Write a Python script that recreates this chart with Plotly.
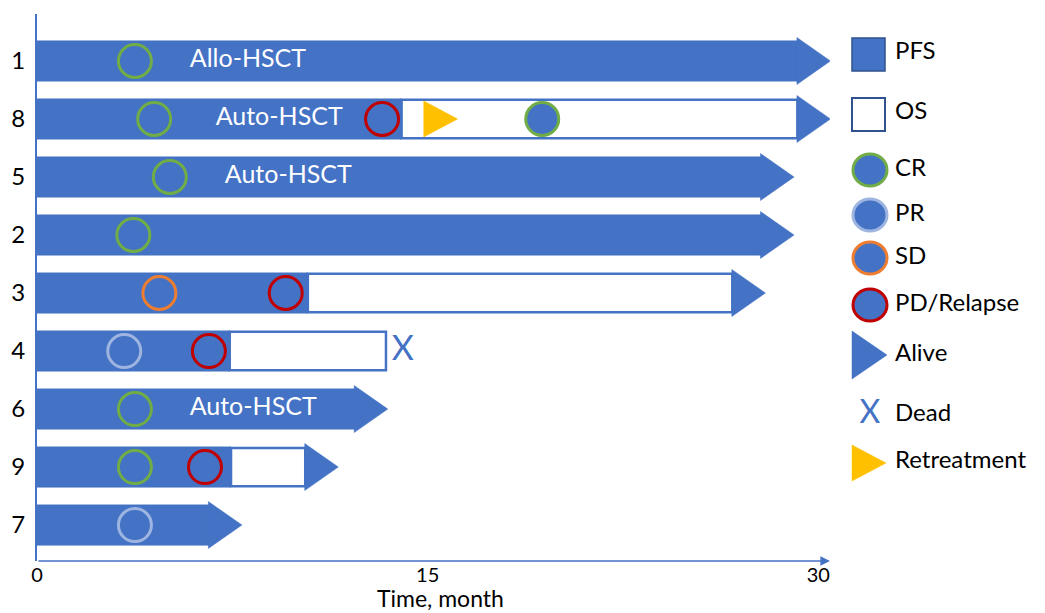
import plotly.graph_objects as go

# ---------------- data ----------------
patients = ["1", "8", "5", "2", "3", "4", "6", "9", "7"]
pfs_end = [29.2, 14.0, 27.8, 27.8, 10.4, 7.4, 12.2, 7.45, 6.6]
os_end = [29.2, 29.2, 27.8, 27.8, 26.7, 13.4, 12.2, 10.3, 6.6]
alive = [True, True, True, True, True, False, True, True, True]

cr_patient = ["1", "8", "8", "5", "2", "6", "9"]
cr_month = [3.76, 4.5, 19.4, 5.1, 3.7, 3.76, 3.76]
pr_patient = ["4", "7"]
pr_month = [3.35, 3.76]
sd_patient = ["3"]
sd_month = [4.7]
pd_patient = ["8", "3", "4", "9"]
pd_month = [13.25, 9.55, 6.6, 6.45]
retreat_patient = ["8"]
retreat_month = [14.85]

hsct_patient = ["1", "8", "5", "6"]
hsct_label = ["Allo-HSCT", "Auto-HSCT", "Auto-HSCT", "Auto-HSCT"]
hsct_label_month = [8.1, 9.3, 9.65, 8.3]

x_ticks = [0, 15, 30]
x_title = "Time, month"

legend_labels = ["PFS", "OS", "CR", "PR", "SD", "PD/Relapse", "Alive", "Dead", "Retreatment"]

# ---------------- style ----------------
BLUE = "#4472C4"
DARK = "#2F528F"
GREEN = "#70AD47"
LIGHT = "#9DB5E0"
ORANGE = "#ED7D31"
RED = "#C00000"
GOLD = "#FFC000"
FONT = "Lato"

W, H = 1045, 613
X_L, X_R = 37, 830
Y_T, Y_B = 14, 561
XMAX = 30.45
BAR_W = 0.69
HEAD_H = 0.81
HEAD_L = 1.27

row = {p: i for i, p in enumerate(patients)}

fig = go.Figure()

# PFS bars
fig.add_trace(go.Bar(
    y=list(range(len(patients))), x=pfs_end, base=[0] * len(patients),
    orientation="h", width=BAR_W,
    marker=dict(color=BLUE, line=dict(color=BLUE, width=1)),
    hoverinfo="skip", showlegend=False,
))

# OS boxes (after progression)
os_y, os_len, os_base = [], [], []
for i, (p, o) in enumerate(zip(pfs_end, os_end)):
    if o > p:
        os_y.append(i)
        os_len.append(o - p)
        os_base.append(p)
fig.add_trace(go.Bar(
    y=os_y, x=os_len, base=os_base, orientation="h", width=BAR_W - 0.03,
    marker=dict(color="white", line=dict(color=BLUE, width=2.5)),
    hoverinfo="skip", showlegend=False,
))

# Alive arrow heads
ax, ay = [], []
for i, (o, a) in enumerate(zip(os_end, alive)):
    if a:
        ax += [o - 0.02, o + HEAD_L, o - 0.02, o - 0.02, None]
        ay += [i - HEAD_H / 2, i, i + HEAD_H / 2, i - HEAD_H / 2, None]
fig.add_trace(go.Scatter(
    x=ax, y=ay, mode="lines", fill="toself", fillcolor=BLUE,
    line=dict(color=BLUE, width=0.5), hoverinfo="skip", showlegend=False,
))

# Retreatment triangles
rx, ry = [], []
for p, m in zip(retreat_patient, retreat_month):
    i = row[p]
    rx += [m, m + 1.3, m, m, None]
    ry += [i - 0.31, i, i + 0.31, i - 0.31, None]
fig.add_trace(go.Scatter(
    x=rx, y=ry, mode="lines", fill="toself", fillcolor=GOLD,
    line=dict(color=GOLD, width=0.5), hoverinfo="skip", showlegend=False,
))

# response markers
def add_resp(pats, months, col):
    fig.add_trace(go.Scatter(
        x=months, y=[row[p] for p in pats], mode="markers",
        marker=dict(symbol="circle", size=33, color=BLUE, line=dict(color=col, width=3)),
        hoverinfo="skip", showlegend=False,
    ))

add_resp(cr_patient, cr_month, GREEN)
add_resp(pr_patient, pr_month, LIGHT)
add_resp(sd_patient, sd_month, ORANGE)
add_resp(pd_patient, pd_month, RED)

# HSCT labels
fig.add_trace(go.Scatter(
    x=hsct_label_month, y=[row[p] for p in hsct_patient], mode="text",
    text=hsct_label, textposition="middle center",
    textfont=dict(family=FONT, size=25, color="white"),
    hoverinfo="skip", showlegend=False,
))

# Dead markers
dx = [o + 0.65 for o, a in zip(os_end, alive) if not a]
dy = [i for i, a in enumerate(alive) if not a]
fig.add_trace(go.Scatter(
    x=dx, y=dy, mode="text", text=["X"] * len(dx), textposition="middle center",
    textfont=dict(family=FONT, size=34, color=BLUE),
    hoverinfo="skip", showlegend=False,
))

# ---------------- legend (drawn on a pixel-scaled helper axis) ----------------
leg_text_y = [53, 113, 170, 215, 258, 305, 355, 415, 462]
fig.add_trace(go.Scatter(
    x=[895] * len(legend_labels), y=leg_text_y, mode="text", text=legend_labels,
    textposition="middle right", textfont=dict(family=FONT, size=24, color="black"),
    xaxis="x2", yaxis="y2", hoverinfo="skip", showlegend=False, cliponaxis=False,
))
fig.add_trace(go.Scatter(
    x=[870], y=[415], mode="text", text=["X"], textposition="middle center",
    textfont=dict(family=FONT, size=32, color=BLUE),
    xaxis="x2", yaxis="y2", hoverinfo="skip", showlegend=False, cliponaxis=False,
))

shapes = []
shapes.append(dict(type="rect", xref="x2", yref="y2", x0=852, x1=885, y0=38, y1=71,
                   fillcolor=BLUE, line=dict(color=DARK, width=1.5)))
shapes.append(dict(type="rect", xref="x2", yref="y2", x0=852, x1=885, y0=98, y1=131,
                   fillcolor="white", line=dict(color=DARK, width=2)))
for cy, col in zip([170, 215, 258, 305], [GREEN, LIGHT, ORANGE, RED]):
    shapes.append(dict(type="circle", xref="x2", yref="y2", x0=853, x1=887,
                       y0=cy - 16, y1=cy + 16, fillcolor=BLUE, line=dict(color=col, width=3)))
shapes.append(dict(type="path", xref="x2", yref="y2",
                   path="M852,331 L887,355 L852,379 Z", fillcolor=BLUE, line=dict(color=BLUE, width=0.5)))
shapes.append(dict(type="path", xref="x2", yref="y2",
                   path="M852,445 L886,463 L852,481 Z", fillcolor=GOLD, line=dict(color=GOLD, width=0.5)))

# x-axis line with arrow
annotations = [
    dict(x=XMAX, y=0, xref="x", yref="y domain", ax=0, ay=0, axref="x", ayref="y domain",
         text="", showarrow=True, arrowhead=2, arrowsize=1.2, arrowwidth=1.6, arrowcolor=BLUE),
    dict(x=440, y=598, xref="x2", yref="y2", text=x_title, showarrow=False,
         font=dict(family=FONT, size=23, color="black"), xanchor="center", yanchor="middle"),
]

fig.update_layout(
    width=W, height=H, margin=dict(l=0, r=0, t=0, b=0),
    plot_bgcolor="rgba(0,0,0,0)", paper_bgcolor="white",
    barmode="overlay", showlegend=False,
    xaxis=dict(domain=[X_L / W, X_R / W], range=[0, XMAX], tickvals=x_ticks,
               ticktext=[str(t) for t in x_ticks], showgrid=False, zeroline=False,
               showline=False, ticks="", ticklen=0,
               tickfont=dict(family=FONT, size=20, color="black"), automargin=False),
    yaxis=dict(domain=[1 - Y_B / H, 1 - Y_T / H], range=[8.62, -0.81],
               tickvals=list(range(len(patients))), ticktext=patients,
               showgrid=False, zeroline=False, showline=True, linecolor=BLUE, linewidth=2,
               ticks="outside", ticklen=5, tickcolor="rgba(0,0,0,0)",
               tickfont=dict(family=FONT, size=24, color="black"), automargin=False),
    xaxis2=dict(domain=[0, 1], range=[0, W], visible=False, anchor="y2"),
    yaxis2=dict(domain=[0, 1], range=[H, 0], visible=False, anchor="x2"),
    shapes=shapes, annotations=annotations,
)

fig.write_html("out.html", config={"displayModeBar": False},
               post_script="document.body.style.margin='0';document.body.style.overflow='hidden';")
